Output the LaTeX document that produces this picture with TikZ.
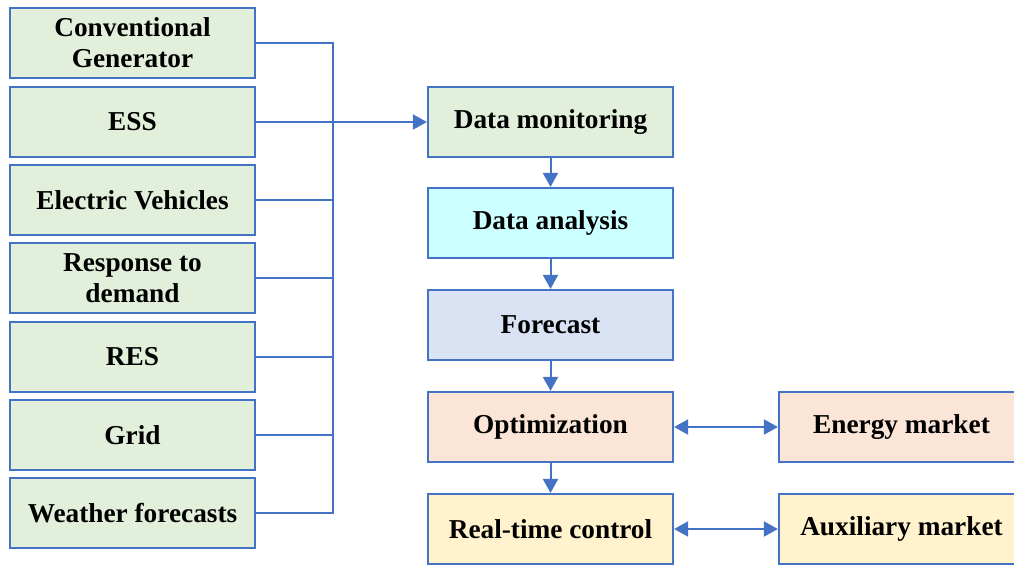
\documentclass[tikz,border=0pt]{standalone}
\usepackage{fontspec}
\setmainfont{Liberation Serif}
\usetikzlibrary{arrows.meta}
\definecolor{bl}{HTML}{4472C4}
\definecolor{cgreen}{HTML}{E2EFDA}
\definecolor{ccyan}{HTML}{CCFFFF}
\definecolor{clav}{HTML}{DAE3F3}
\definecolor{cpeach}{HTML}{FBE5D6}
\definecolor{cyel}{HTML}{FFF2CC}
\begin{document}
\begin{tikzpicture}[x=1pt,y=-1pt,
  box/.style={draw=bl,line width=2.2pt,minimum width=245pt,minimum height=70pt,inner sep=0pt,align=center,
    font=\fontsize{27.3}{31}\selectfont\bfseries},
  conn/.style={draw=bl,line width=2pt},
  tip/.tip={Triangle[length=14pt,width=15pt]},
  arr/.style={conn,-tip},
  darr/.style={conn,tip-tip}]
\useasboundingbox (0,0) rectangle (1014,565);
\begin{scope}
\clip (0,0) rectangle (1014,565);
\node[box,fill=cgreen] (cg) at (132.5,43) {Conventional\\Generator};
\node[box,fill=cgreen] (ess) at (132.5,122) {ESS};
\node[box,fill=cgreen] (ev) at (132.5,200) {Electric Vehicles};
\node[box,fill=cgreen] (rd) at (132.5,278) {Response to\\demand};
\node[box,fill=cgreen] (res) at (132.5,357) {RES};
\node[box,fill=cgreen] (grid) at (132.5,435) {Grid};
\node[box,fill=cgreen] (wf) at (132.5,513) {Weather forecasts};

\node[box,fill=cgreen] (dm) at (550.5,122) {Data monitoring};
\node[box,fill=ccyan] (da) at (550.5,223) {Data analysis};
\node[box,fill=clav] (fc) at (550.5,325) {Forecast};
\node[box,fill=cpeach] (opt) at (550.5,427) {Optimization};
\node[box,fill=cyel] (rt) at (550.5,529) {Real-time control};

\node[box,fill=cpeach] (em) at (901.5,427) {Energy market};
\node[box,fill=cyel] (am) at (901.5,529) {Auxiliary market};
\end{scope}

\coordinate (bt) at (333,43);
\coordinate (bb) at (333,513);
\draw[conn] (cg.east) -- (bt) -- (bb) -- (wf.east);
\foreach \n in {ev,rd,res,grid}{
  \draw[conn] (\n.east) -- (\n.east -| bt);
}
\draw[arr] (ess.east) -- (dm.west);

\draw[arr] (dm.south) -- (da.north);
\draw[arr] (da.south) -- (fc.north);
\draw[arr] (fc.south) -- (opt.north);
\draw[arr] (opt.south) -- (rt.north);
\draw[darr] (opt.east) -- (em.west);
\draw[darr] (rt.east) -- (am.west);
\end{tikzpicture}
\end{document}
